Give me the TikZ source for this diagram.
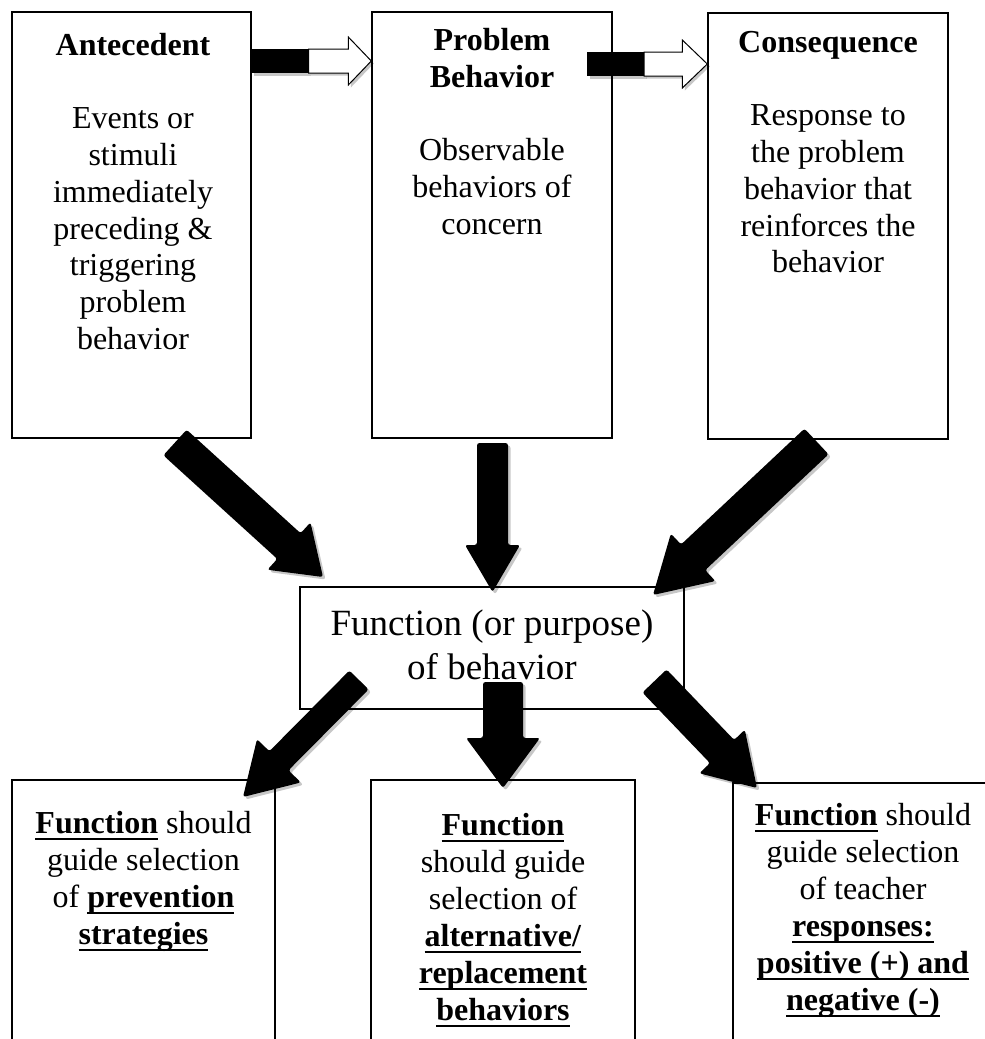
\documentclass[tikz,border=0pt]{standalone}
\usepackage{fontspec}
\setmainfont{Liberation Serif}
\usetikzlibrary{calc,shadows}
\newsavebox\myulbox
\newcommand{\myul}[1]{\sbox\myulbox{#1}\rlap{\rule[-6.5pt]{\wd\myulbox}{2.5pt}}\usebox\myulbox}
% fat block arrow: start, end, half shaft width, half head width, head length
\newcommand{\fatarrow}[5]{%
  \coordinate (#1-hb) at ($(#2)!#5!(#1)$);
  \fill[fatarrowstyle]
    ($(#1)!#3!90:(#2)$) -- ($(#1-hb)!#3!90:(#2)$) -- ($(#1-hb)!#4!90:(#2)$) --
    (#2) -- ($(#1-hb)!#4!-90:(#2)$) -- ($(#1-hb)!#3!-90:(#2)$) --
    ($(#1)!#3!-90:(#2)$) -- cycle;
}
% striped horizontal arrow: start, end, black length, head length, half shaft, half head
\newcommand{\stripearrow}[6]{%
  \fill[stripeblack] ($(#1)+(0,-#5)$) rectangle ($(#1)+(#3,#5)$);
  \draw[stripewhite] ($(#1)+(#3,-#5)$) -- ($(#2)+(-#4,-#5)$) -- ($(#2)+(-#4,-#6)$) --
    (#2) -- ($(#2)+(-#4,#6)$) -- ($(#2)+(-#4,#5)$) -- ($(#1)+(#3,#5)$) -- cycle;
}
\begin{document}
\begin{tikzpicture}[x=1pt,y=-1pt,
  box/.style={draw=black,line width=1.4pt,inner sep=0pt,fill=none},
  toptext/.style={anchor=north,inner sep=0pt,align=center,font=\fontsize{32}{36.7}\selectfont},
  bottext/.style={anchor=north,inner sep=0pt,align=center,font=\fontsize{32}{37}\selectfont},
  functext/.style={anchor=north,inner sep=0pt,align=center,font=\fontsize{37}{44}\selectfont},
  fatarrowstyle/.style={fill=black,rounded corners=2.5pt,
    drop shadow={shadow xshift=2.5pt,shadow yshift=-2.5pt,opacity=0.22,fill=black}},
  stripeblack/.style={fill=black,
    drop shadow={shadow xshift=2.5pt,shadow yshift=-2.5pt,opacity=0.22,fill=black}},
  stripewhite/.style={draw=black,line width=1pt,fill=white,line join=miter,
    drop shadow={shadow xshift=2.5pt,shadow yshift=-2.5pt,opacity=0.22,fill=black}}
]
\useasboundingbox (0,0) rectangle (985,1039);
\fill[white] (0,0) rectangle (985,1039);
\clip (0,0) rectangle (985,1039);

% boxes
\node[box,minimum width=239pt,minimum height=426pt] (A) at (131.5,225) {};
\node[box,minimum width=240pt,minimum height=426pt] (B) at (492,225) {};
\node[box,minimum width=240pt,minimum height=426pt] (C) at (828,226) {};
\node[box,minimum width=384pt,minimum height=122pt] (F) at (492,648) {};
\node[box,minimum width=263pt,minimum height=280pt] (D) at (143.5,920) {};
\node[box,minimum width=264pt,minimum height=280pt] (E) at (503,920) {};
\node[box,minimum width=267pt,minimum height=277pt] (G) at (866.5,921.5) {};

% texts
\node[toptext] (tA) at (133,29.7) {\strut\textbf{Antecedent}\\[36.7pt]Events or\\stimuli\\immediately\\preceding \&\\triggering\\problem\\behavior};
\node[toptext] (tB) at (492,24.7) {\strut\textbf{Problem}\\\textbf{Behavior}\\[36.7pt]Observable\\behaviors of\\concern};
\node[toptext] (tC) at (828,26.7) {\strut\textbf{Consequence}\\[36.7pt]Response to\\the problem\\behavior that\\reinforces the\\behavior};
\node[functext] (tF) at (492,604.4) {\strut Function (or purpose)\\of behavior};
\node[bottext] (tD) at (143.5,807.7) {\strut\myul{\textbf{Function}} should\\guide selection\\of \myul{\textbf{prevention}}\\\myul{\textbf{strategies}}};
\node[bottext] (tE) at (503,809.7) {\strut\myul{\textbf{Function}}\\should guide\\selection of\\\myul{\textbf{alternative/}}\\\myul{\textbf{replacement}}\\\myul{\textbf{behaviors}}};
\node[bottext] (tG) at (863,799.7) {\strut\myul{\textbf{Function}} should\\guide selection\\of teacher\\\myul{\textbf{responses:}}\\\myul{\textbf{positive (+) and}}\\\myul{\textbf{negative (-)}}};

% striped arrows between top boxes
\coordinate (s1a) at (A.east |- 0,61);
\coordinate (s1b) at (B.west |- 0,61);
\coordinate (s2a) at (587,64);
\coordinate (s2b) at (C.west |- 0,64);
\stripearrow{s1a}{s1b}{57}{23}{12}{24}
\stripearrow{s2a}{s2b}{57}{25}{12}{24}

% fat arrows into the function box
\coordinate (a1s) at (175,442.5);   \coordinate (a1e) at (323,577);
\coordinate (a2s) at (492.5,443);   \coordinate (a2e) at (492.5,592);
\coordinate (a3s) at (816.5,441.5); \coordinate (a3e) at (653,595);
\fatarrow{a1s}{a1e}{17.3pt}{32pt}{46pt}
\fatarrow{a2s}{a2e}{15.5pt}{27.5pt}{47pt}
\fatarrow{a3s}{a3e}{17.6pt}{32.5pt}{55pt}

% fat arrows out of the function box
\coordinate (b1s) at (359,680);   \coordinate (b1e) at (243,797);
\coordinate (b2s) at (503,682);   \coordinate (b2e) at (503,788);
\coordinate (b3s) at (654.5,681); \coordinate (b3e) at (757,788);
\fatarrow{b1s}{b1e}{13.5pt}{30.8pt}{51pt}
\fatarrow{b2s}{b2e}{20pt}{37pt}{50pt}
\fatarrow{b3s}{b3e}{16.7pt}{31.5pt}{50.5pt}
\end{tikzpicture}
\end{document}
